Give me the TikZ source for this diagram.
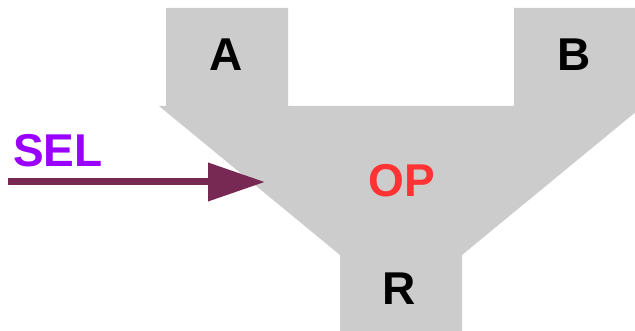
\documentclass[tikz,border=0pt]{standalone}
\usepackage{fontspec}
\setmainfont{Liberation Sans}
\usetikzlibrary{arrows.meta}
\definecolor{alugray}{HTML}{CCCCCC}
\definecolor{selpurple}{HTML}{9900FF}
\definecolor{oprred}{HTML}{FF3333}
\definecolor{arrowmaroon}{RGB}{119,41,83}
\tikzset{
  lbl/.style={font=\fontsize{46}{50}\selectfont\bfseries, inner sep=0pt, anchor=center},
}
\begin{document}
\begin{tikzpicture}[x=1pt,y=-1pt]
\useasboundingbox[clip] (0,0) rectangle (635,331);
\fill[alugray] (166,8) -- (288,8) -- (288,106) -- (514,106) -- (514,8) -- (636,8)
  -- (636,106) -- (643,106) -- (462,255) -- (462,340) -- (340,340) -- (340,255)
  -- (159,106) -- (166,106) -- cycle;
\node[lbl] (A) at (226,55) {A};
\node[lbl] (B) at (574,55) {B};
\node[lbl] (R) at (399,289) {R};
\node[lbl, text=oprred] (OP) at (401.5,180.5) {OP};
\node[lbl, text=selpurple] (SEL) at (58,151) {SEL};
\coordinate (selstart) at (8,182);
\coordinate (seltip) at (265,182);
\draw[arrowmaroon, line width=7pt, -{Triangle[length=57pt,width=37pt]}] (selstart) -- (seltip);
\end{tikzpicture}
\end{document}
